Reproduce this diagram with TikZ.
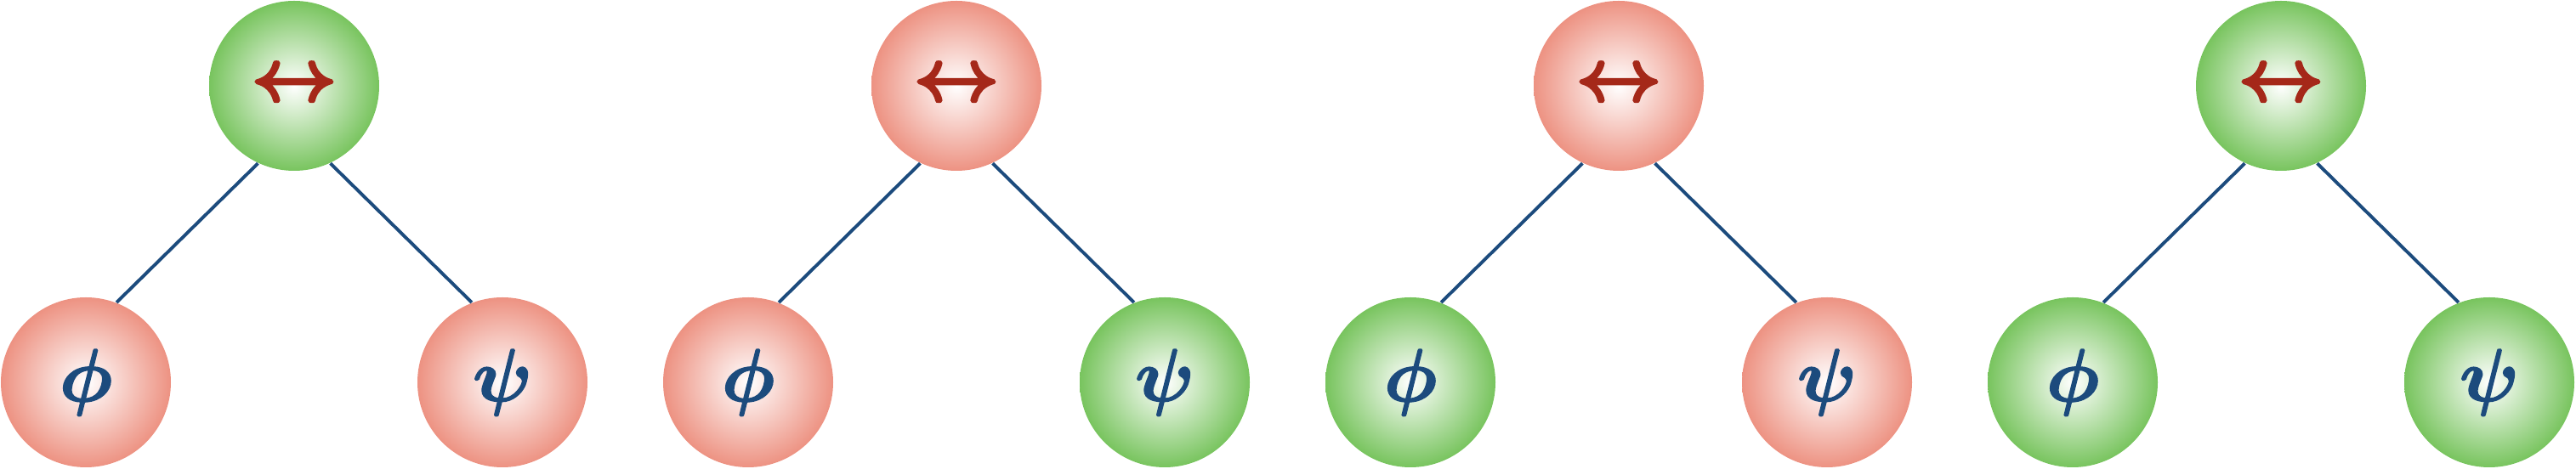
\documentclass[tikz,border=0pt]{standalone}
\definecolor{leafgreen}{RGB}{120,196,94}
\definecolor{leafred}{RGB}{237,146,130}
\definecolor{inkblue}{RGB}{28,75,125}
\definecolor{arrowred}{RGB}{165,40,25}
\usepackage{amsmath,amssymb}
\usepackage{tikz}
\newcommand{\heavy}[2][0.9]{\special{pdf:literal direct 2 Tr #1 w}#2\special{pdf:literal direct 0 Tr}}

\begin{document}
\begin{tikzpicture}[
    ball/.style={circle,minimum size=2cm,inner sep=0pt,inner color=white,outer color=#1},
    link/.style={inkblue,line width=1.1pt}]
        \useasboundingbox (0,0) rectangle (30.3,5.52);
        \foreach \t/\ct/\cl/\cr in {0/leafgreen/leafred/leafred,1/leafred/leafred/leafgreen,2/leafred/leafgreen/leafred,3/leafgreen/leafgreen/leafgreen}
        {
          \begin{scope}[shift={(\t*7.79,0)}]
            \node[ball=\ct,text=arrowred,font=\fontsize{23}{27}\selectfont] (top\t) at (3.46,4.51) {\heavy{$\boldsymbol{\leftrightarrow}$}};
            \node[ball=\cl,text=inkblue,font=\fontsize{27}{32}\selectfont] (phi\t) at (1.01,1.02) {\heavy[0.5]{$\boldsymbol{\phi}$}};
            \node[ball=\cr,text=inkblue,font=\fontsize{27}{32}\selectfont] (psi\t) at (5.91,1.02) {\heavy[0.5]{$\boldsymbol{\psi}$}};
            \draw[link] (top\t.245) -- (phi\t.69);
            \draw[link] (top\t.295) -- (psi\t.111);
          \end{scope}
        }
      \end{tikzpicture}
\end{document}
